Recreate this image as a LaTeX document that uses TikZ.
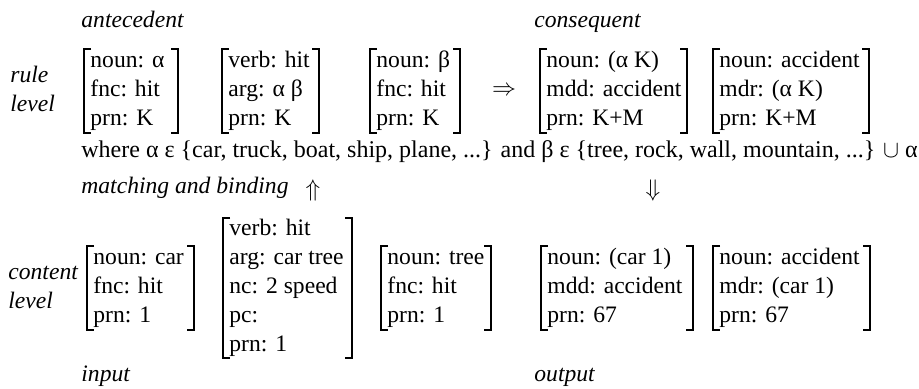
\documentclass[tikz,border=0pt]{standalone}
\usepackage{fontspec}
\setmainfont{Liberation Serif}
\usetikzlibrary{calc}

\tikzset{
  avm/.style={anchor=west, align=left, inner xsep=3pt, inner ysep=0pt},
  lbl/.style={anchor=base west, inner sep=0pt, font=\itshape},
  txt/.style={anchor=base west, inner sep=0pt, font=\fontsize{12}{14.5}\selectfont},
  lvl/.style={anchor=west, align=left, inner sep=0pt, font=\itshape},
  brk/.style={line width=0.6pt},
}

\begin{document}
\fontsize{11.8}{14.5}\selectfont
\begin{tikzpicture}[x=0.5pt, y=-0.5pt]
\useasboundingbox (0,0) rectangle (919,388);

% rule level
\node[lbl] (ante) at (81,27) {antecedent};
\node[lbl] (cons) at (534,27) {consequent};
\node[lvl] (rule) at (10,91) {\strut rule\\\strut level};

\node[avm] (r1) at (84,91) {\strut noun: α\\\strut fnc: hit\\\strut prn: K};
\node[avm] (r2) at (222,91) {\strut verb: hit\\\strut arg: α β\\\strut prn: K};
\node[avm] (r3) at (370,91) {\strut noun: β\\\strut fnc: hit\\\strut prn: K};
\node (impl) at (504,91) {$\Rightarrow$};
\node[avm] (r4) at (540,91) {\strut noun: (α K)\\\strut mdd: accident\\\strut prn: K+M};
\node[avm] (r5) at (713,91) {\strut noun: accident\\\strut mdr: (α K)\\\strut prn: K+M};

\node[txt] (where) at (81,157)
  {where α ε \{car, truck, boat, ship, plane, ...\} and β ε \{tree, rock, wall, mountain, ...\} $\cup$ α};

% matching
\node[lbl] (match) at (81,193) {matching and binding};
\node (up) at (313,190) {$\Uparrow$};
\node (down) at (653,190) {$\Downarrow$};

% content level
\node[lvl] (content) at (8,288) {\strut content\\\strut level};

\node[avm] (c1) at (87,288) {\strut noun: car\\\strut fnc: hit\\\strut prn: 1};
\node[avm] (c2) at (223,288) {\strut verb: hit\\\strut arg: car tree\\\strut nc: 2 speed\\\strut pc:\\\strut prn: 1};
\node[avm] (c3) at (381,288) {\strut noun: tree\\\strut fnc: hit\\\strut prn: 1};
\node[avm] (c4) at (541,288) {\strut noun: (car 1)\\\strut mdd: accident\\\strut prn: 67};
\node[avm] (c5) at (713,288) {\strut noun: accident\\\strut mdr: (car 1)\\\strut prn: 67};

\node[lbl] (input) at (81,381) {input};
\node[lbl] (output) at (534,381) {output};

% brackets
\foreach \n/\w/\h in {r1/94/42, r2/97/42, r3/90/42, r4/147/42, r5/156/42,
                      c1/107/42, c2/129/70, c3/110/42, c4/152/42, c5/157/42} {
  \draw[brk] ($(\n.west)+(7,-\h)$) -- ($(\n.west)+(0,-\h)$)
    -- ($(\n.west)+(0,\h)$) -- ++(7,0);
  \draw[brk] ($(\n.west)+(\w-7,-\h)$) -- ($(\n.west)+(\w,-\h)$)
    -- ($(\n.west)+(\w,\h)$) -- ++(-7,0);
}

\end{tikzpicture}
\end{document}
